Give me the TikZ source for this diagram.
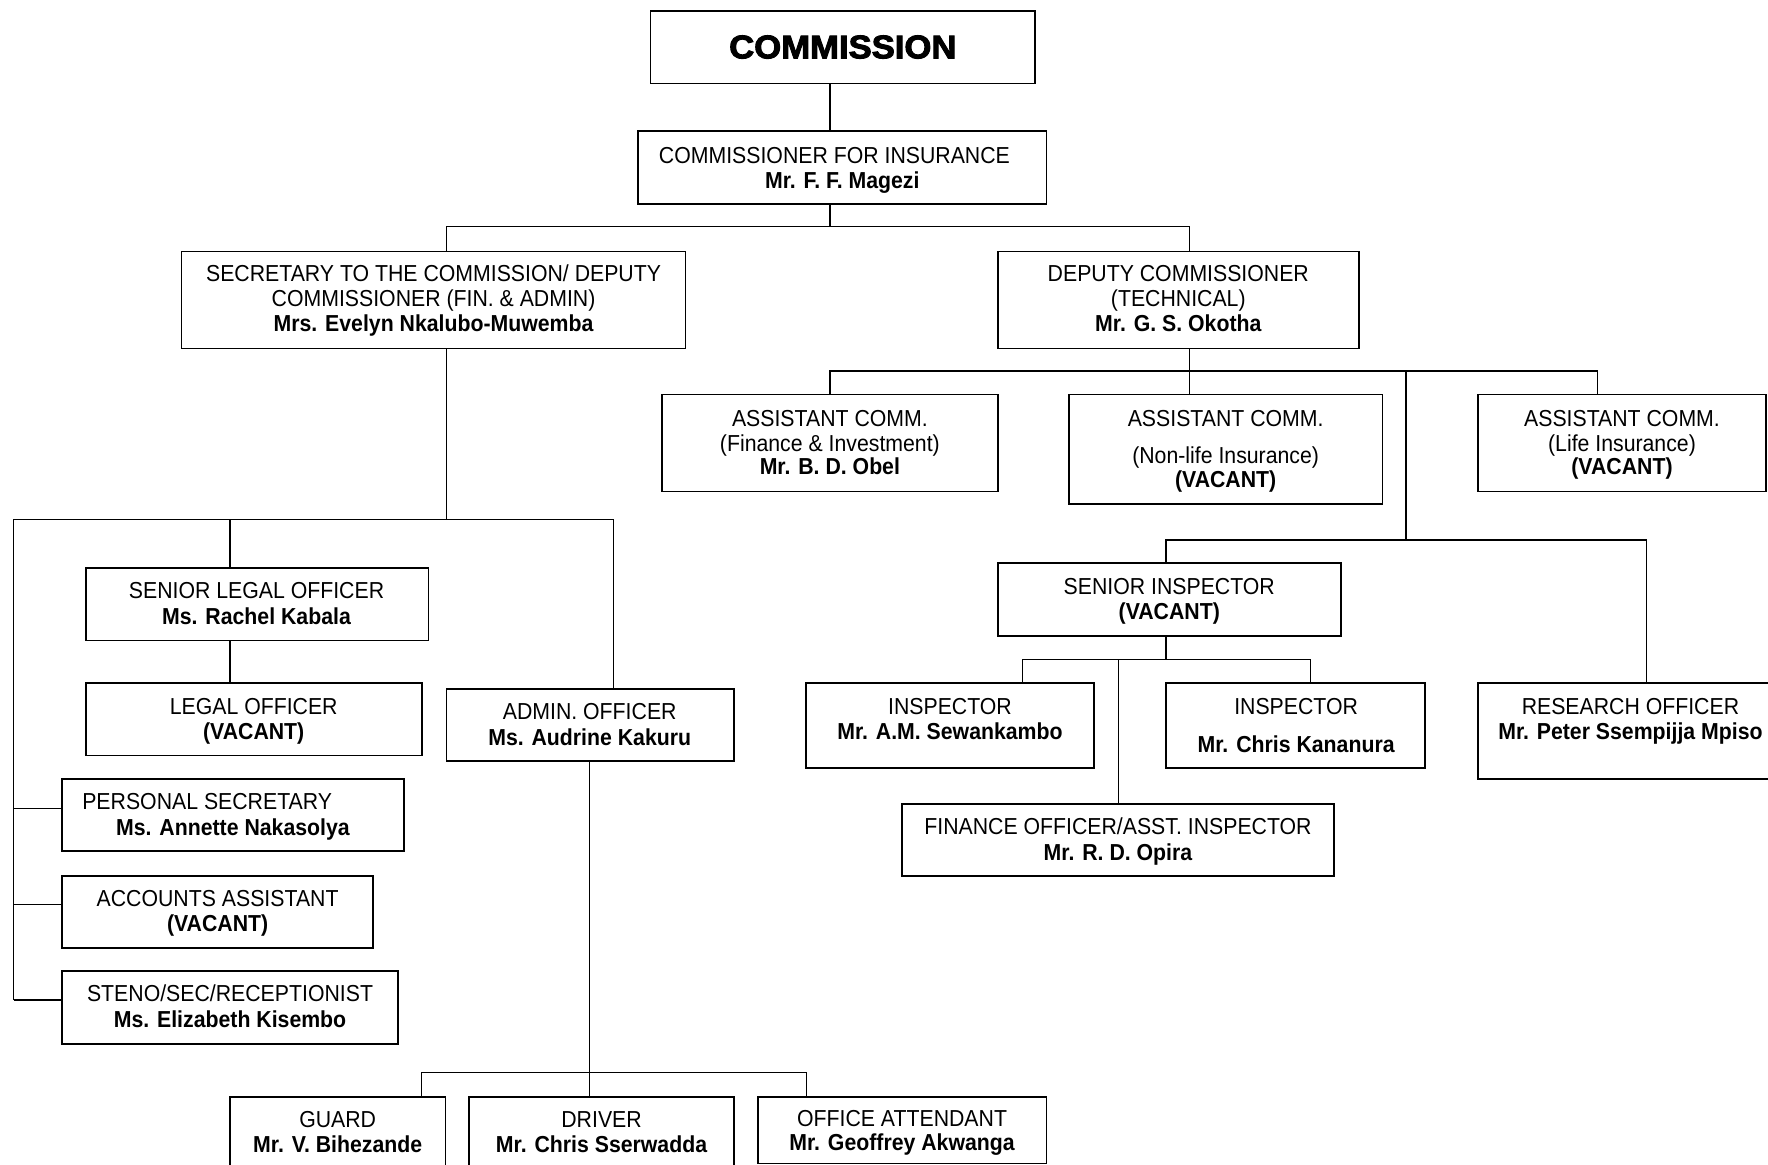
\documentclass[tikz,border=0pt]{standalone}
\usepackage{fontspec}
\setmainfont{Liberation Sans}[FakeStretch=0.92]
\newfontfamily\heavyfont{Liberation Sans}[FakeStretch=1.06,FakeBold=3]
\tikzset{
  box/.style={draw=black, line width=1.5pt, rectangle, inner sep=0pt, outer sep=0pt, fill=white},
  link/.style={draw=black, line width=1.2pt},
  txt/.style={anchor=base, inner sep=0pt, outer sep=0pt, font=\fontsize{20.5}{23}\selectfont},
  txtw/.style={txt, anchor=base west},
}
\newcommand\obox[5]{\node[box, minimum width={#4-#2}, minimum height={#5-#3}] (#1) at ({(#2+#4)/2},{(#3+#5)/2}) {};}
\newcommand\tl[4]{\node[txt] (#1) at (#2,#3) {#4};}
\begin{document}
\begin{tikzpicture}[x=1pt,y=-1pt]
\useasboundingbox (0,0) rectangle (1568,1033);
\fill[white] (0,0) rectangle (1568,1033);

% ---------- connector junctions ----------
\coordinate (b1) at (736,201);
\coordinate (b1L) at (396,201);
\coordinate (b1R) at (1055,201);
\coordinate (b2) at (1055,329);
\coordinate (b2L) at (736,329);
\coordinate (b2R) at (1417,329);
\coordinate (b2M) at (1247,329);
\coordinate (b3) at (1247,479);
\coordinate (b3L) at (1034,479);
\coordinate (b3R) at (1460,479);
\coordinate (b4) at (1034,585);
\coordinate (b4L) at (907,585);
\coordinate (b4R) at (1162,585);
\coordinate (b4M) at (992,585);
\coordinate (b5) at (396,461);
\coordinate (b5L) at (12,461);
\coordinate (b5R) at (544,461);
\coordinate (b5M) at (204,461);
\coordinate (c1) at (12,717);
\coordinate (c2) at (12,802);
\coordinate (c3) at (12,887);
\coordinate (b6) at (523,951);
\coordinate (b6L) at (374,951);
\coordinate (b6R) at (715,951);
\coordinate (x736) at (736,0);

% ---------- boxes ----------
\obox{comm}{577}{10}{918}{74}
\obox{cfi}{566}{116}{928}{181}
\obox{sec}{161}{223}{608}{309}
\obox{dep}{885}{223}{1205}{309}
\obox{fin}{587}{350}{885}{436}
\obox{nonlife}{948}{350}{1226}{447}
\obox{life}{1311}{350}{1566}{436}
\obox{sins}{885}{499}{1189}{564}
\obox{insp1}{715}{606}{970}{681}
\obox{insp2}{1034}{606}{1264}{681}
\obox{res}{1311}{606}{1590}{691}
\obox{fo}{800}{713}{1183}{777}
\obox{slo}{76}{504}{380}{568}
\obox{lo}{76}{606}{374}{670}
\obox{admin}{396}{611}{651}{675}
\obox{ps}{55}{691}{358}{755}
\obox{acc}{55}{777}{331}{841}
\obox{steno}{55}{861}{353}{926}
\obox{guard}{204}{973}{395}{1045}
\obox{driver}{416}{973}{651}{1045}
\obox{oa}{672}{973}{928}{1032}

% ---------- connectors ----------
\draw[link] (comm.south -| x736) -- (cfi.north -| x736);
\draw[link] (cfi.south -| b1) -- (b1);
\draw[link] (sec.north -| b1L) -- (b1L) -- (b1R) -- (dep.north -| b1R);
\draw[link] (dep.south -| b2) -- (nonlife.north -| b2);
\draw[link] (fin.north -| b2L) -- (b2L) -- (b2R) -- (life.north -| b2R);
\draw[link] (b2M) -- (b3);
\draw[link] (sins.north -| b3L) -- (b3L) -- (b3R) -- (res.north -| b3R);
\draw[link] (sins.south -| b4) -- (b4);
\draw[link] (insp1.north -| b4L) -- (b4L) -- (b4R) -- (insp2.north -| b4R);
\draw[link] (b4M) -- (fo.north -| b4M);
\draw[link] (sec.south -| b5) -- (b5);
\draw[link] (c3) -- (b5L) -- (b5R) -- (admin.north -| b5R);
\draw[link] (b5M) -- (slo.north -| b5M);
\draw[link] (slo.south -| b5M) -- (lo.north -| b5M);
\draw[link] (c1) -- (ps.west |- c1);
\draw[link] (c2) -- (acc.west |- c2);
\draw[link] (c3) -- (steno.west |- c3);
\draw[link] (admin.south -| b6) -- (driver.north -| b6);
\draw[link] (guard.north -| b6L) -- (b6L) -- (b6R) -- (oa.north -| b6R);

% ---------- texts ----------
\node[anchor=base, inner sep=0pt, font=\fontsize{29}{32}\selectfont\heavyfont\bfseries] (comm-t) at (747.5,51.7) {COMMISSION};
\tl{cfi-t1}{740}{144.8}{COMMISSIONER FOR INSURANCE}
\tl{cfi-t2}{747}{167}{\bfseries Mr. F. F. Magezi}
\tl{sec-t1}{384.5}{250}{SECRETARY TO THE COMMISSION/ DEPUTY}
\tl{sec-t2}{384.5}{272}{COMMISSIONER (FIN. \& ADMIN)}
\tl{sec-t3}{384.5}{294}{\bfseries Mrs. Evelyn Nkalubo-Muwemba}
\tl{dep-t1}{1045}{250}{DEPUTY COMMISSIONER}
\tl{dep-t2}{1045}{272}{(TECHNICAL)}
\tl{dep-t3}{1045}{294}{\bfseries Mr. G. S. Okotha}
\tl{fin-t1}{736}{378}{ASSISTANT COMM.}
\tl{fin-t2}{736}{400}{(Finance \& Investment)}
\tl{fin-t3}{736}{421}{\bfseries Mr. B. D. Obel}
\tl{nl-t1}{1087}{378}{ASSISTANT COMM.}
\tl{nl-t2}{1087}{411}{(Non-life Insurance)}
\tl{nl-t3}{1087}{432}{\bfseries (VACANT)}
\tl{life-t1}{1438.5}{378}{ASSISTANT COMM.}
\tl{life-t2}{1438.5}{400}{(Life Insurance)}
\tl{life-t3}{1438.5}{421}{\bfseries (VACANT)}
\tl{sins-t1}{1037}{527}{SENIOR INSPECTOR}
\tl{sins-t2}{1037}{549}{\bfseries (VACANT)}
\tl{i1-t1}{842.5}{633.5}{INSPECTOR}
\tl{i1-t2}{842.5}{656}{\bfseries Mr. A.M. Sewankambo}
\tl{i2-t1}{1149.5}{633.5}{INSPECTOR}
\tl{i2-t2}{1149.5}{667}{\bfseries Mr. Chris Kananura}
\tl{res-t1}{1446}{633.5}{RESEARCH OFFICER}
\tl{res-t2}{1446}{656}{\bfseries Mr. Peter Ssempijja Mpiso}
\tl{fo-t1}{991.5}{740}{FINANCE OFFICER/ASST. INSPECTOR}
\tl{fo-t2}{991.5}{763}{\bfseries Mr. R. D. Opira}
\tl{slo-t1}{227.5}{531}{SENIOR LEGAL OFFICER}
\tl{slo-t2}{227.5}{554}{\bfseries Ms. Rachel Kabala}
\tl{lo-t1}{225}{633.5}{LEGAL OFFICER}
\tl{lo-t2}{225}{655.5}{\bfseries (VACANT)}
\tl{adm-t1}{523}{638}{ADMIN. OFFICER}
\tl{adm-t2}{523}{661}{\bfseries Ms. Audrine Kakuru}
\node[txtw] (ps-t1) at (73,718.3) {PERSONAL SECRETARY};
\node[txtw] (ps-t2) at (103,741) {\bfseries Ms. Annette Nakasolya};
\tl{acc-t1}{193}{804}{ACCOUNTS ASSISTANT}
\tl{acc-t2}{193}{826}{\bfseries (VACANT)}
\tl{st-t1}{204}{888.5}{STENO/SEC/RECEPTIONIST}
\tl{st-t2}{204}{911}{\bfseries Ms. Elizabeth Kisembo}
\tl{g-t1}{299.5}{1000}{GUARD}
\tl{g-t2}{299.5}{1022}{\bfseries Mr. V. Bihezande}
\tl{d-t1}{533.5}{1000}{DRIVER}
\tl{d-t2}{533.5}{1022}{\bfseries Mr. Chris Sserwadda}
\tl{oa-t1}{800}{999}{OFFICE ATTENDANT}
\tl{oa-t2}{800}{1020}{\bfseries Mr. Geoffrey Akwanga}
\end{tikzpicture}
\end{document}
